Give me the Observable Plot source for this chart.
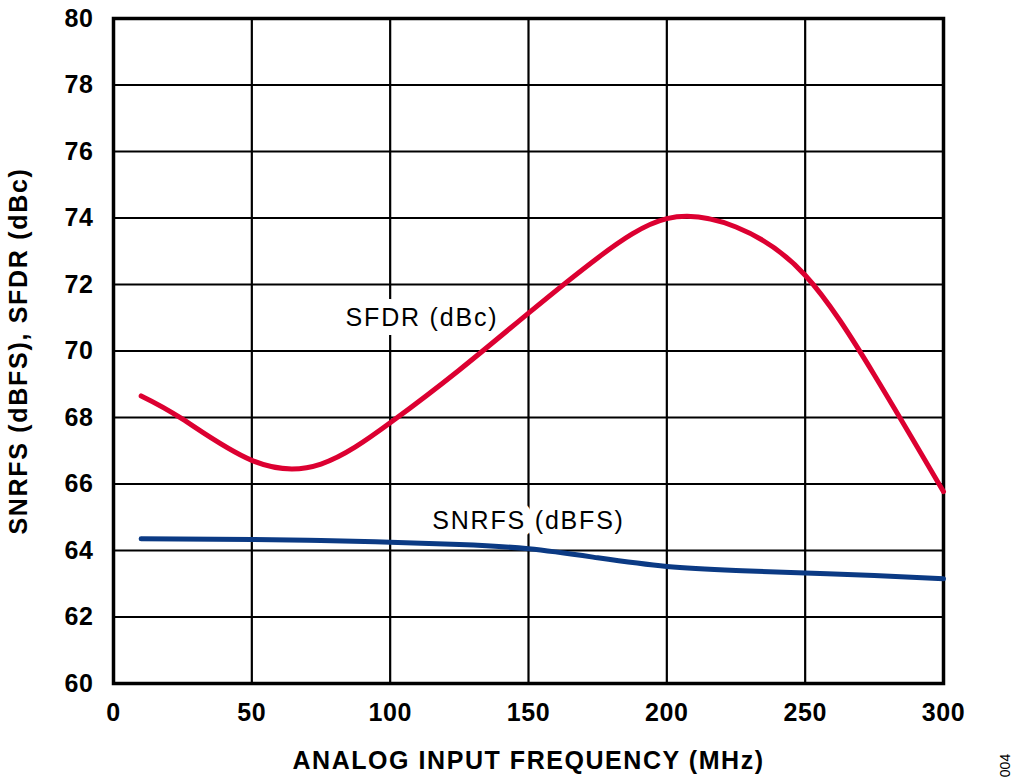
<!DOCTYPE html>
<html>
<head>
<meta charset="utf-8">
<script src="https://cdn.jsdelivr.net/npm/d3@7"></script>
<script src="https://cdn.jsdelivr.net/npm/@observablehq/plot@0.6"></script>
<style>
  html, body { margin: 0; padding: 0; background: #fff; }
  #chart svg { display: block; }
</style>
</head>
<body>
<div id="chart"></div>
<script>
// Data
const sfdrFreq = [10, 25, 50, 75, 100, 125, 150, 175, 200, 225, 250, 275, 300];
const sfdrVal  = [68.65, 67.95, 66.71, 66.6, 67.84, 69.43, 71.14, 72.8, 73.98, 73.73, 72.28, 69.28, 65.77];
const snrFreq  = [10, 50, 75, 100, 125, 150, 175, 200, 225, 250, 275, 300];
const snrVal   = [64.35, 64.33, 64.3, 64.25, 64.18, 64.05, 63.78, 63.52, 63.4, 63.32, 63.25, 63.15];
const xTicks = [0, 50, 100, 150, 200, 250, 300];
const yTicks = [60, 62, 64, 66, 68, 70, 72, 74, 76, 78, 80];
const labels = [
  {text: "SFDR (dBc)", f: 111.5, v: 71.0},
  {text: "SNRFS (dBFS)", f: 150, v: 64.9}
];
const xTitle = "ANALOG INPUT FREQUENCY (MHz)";
const yTitle = "SNRFS (dBFS), SFDR (dBc)";
const figId = "004";

const sfdr = sfdrFreq.map((f, i) => ({f, v: sfdrVal[i]}));
const snr = snrFreq.map((f, i) => ({f, v: snrVal[i]}));

const font = "'Liberation Sans', Arial, Helvetica, sans-serif";

const chart = Plot.plot({
  width: 1024,
  height: 780,
  marginLeft: 113,
  marginRight: 81,
  marginTop: 18,
  marginBottom: 97,
  style: {fontFamily: font, fontSize: "25px", fontWeight: "bold", color: "#000", background: "#fff"},
  x: {domain: [0, 300], ticks: xTicks, label: null},
  y: {domain: [60, 80], ticks: yTicks, label: null},
  marks: [
    Plot.gridX(xTicks, {stroke: "#000", strokeOpacity: 1, strokeWidth: 2.2}),
    Plot.gridY(yTicks, {stroke: "#000", strokeOpacity: 1, strokeWidth: 2.2}),
    Plot.frame({stroke: "#000", strokeWidth: 3.5}),
    Plot.axisX(xTicks, {tickSize: 0, tickPadding: 20, label: null, fontSize: 25, fontWeight: "bold", className: "ticklab"}),
    Plot.axisY(yTicks, {tickSize: 0, tickPadding: 20, label: null, fontSize: 25, fontWeight: "bold", className: "ticklab"}),
    Plot.text(labels, {x: "f", y: "v", text: "text", fontSize: 25, fontWeight: "normal", fill: "#000",
      stroke: "#fff", strokeWidth: 18, paintOrder: "stroke", className: "annot"}),
    Plot.line(snr, {x: "f", y: "v", stroke: "#0b3a84", strokeWidth: 5, curve: "natural"}),
    Plot.line(sfdr, {x: "f", y: "v", stroke: "#dc0031", strokeWidth: 5, curve: "natural"}),
    Plot.text([xTitle], {frameAnchor: "bottom", dy: 77, lineAnchor: "middle", textAnchor: "middle", text: d => d, fontSize: 25, fontWeight: "bold", fill: "#000", className: "xtitle"}),
    Plot.text([yTitle], {frameAnchor: "left", dx: -95, rotate: -90, lineAnchor: "middle", textAnchor: "middle", text: d => d, fontSize: 25, fontWeight: "bold", fill: "#000", className: "ytitle"}),
    Plot.text([figId], {frameAnchor: "bottom-right", dx: 62, dy: 82, rotate: -90, lineAnchor: "middle", textAnchor: "middle", text: d => d, fontSize: 14, fontWeight: "normal", fill: "#000"})
  ]
});
document.getElementById("chart").appendChild(chart);
const svg = d3.select(chart);
svg.selectAll(".ticklab text").style("letter-spacing", "0.6px");
svg.selectAll(".annot text").style("letter-spacing", "1.8px");
svg.selectAll(".xtitle text").style("letter-spacing", "1.55px");
svg.selectAll(".ytitle text").style("letter-spacing", "1.7px");
</script>
</body>
</html>
